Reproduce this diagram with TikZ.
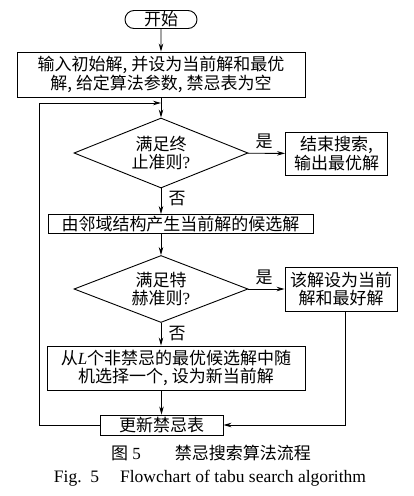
\documentclass[tikz,border=0pt]{standalone}
\usepackage{fontspec}
\setmainfont{Liberation Serif}
\newfontfamily\cjk{Noto Sans CJK SC}
\usetikzlibrary{shapes.geometric,shapes.misc,arrows.meta}
\begin{document}
\begin{tikzpicture}[x=1pt,y=-1pt,
  every node/.style={font=\cjk\fontsize{17}{18.5}\selectfont, line width=0.9pt},
  box/.style={draw, rectangle, inner sep=0pt, align=center},
  term/.style={draw, rounded rectangle, inner sep=0pt, minimum width=72pt, minimum height=18pt},
  dec/.style={draw, diamond, aspect=2.5, inner sep=0pt, minimum width=174pt, minimum height=70pt, align=center},
  lab/.style={inner sep=0pt},
  arr/.style={line width=0.9pt, -{Stealth[length=8pt,width=4.5pt]}},
  ln/.style={line width=0.9pt}]
\useasboundingbox (0,0) rectangle (413,496);
\node[term] (start) at (161,19.5) {开始};
\node[box, minimum width=288pt, minimum height=45pt] (init) at (161,74.5) {输入初始解, 并设为当前解和最优\\解, 给定算法参数, 禁忌表为空};
\node[dec] (d1) at (161,153) {满足终\\止准则{\rmfamily ?}};
\node[box, minimum width=102pt, minimum height=43pt] (fin) at (336.5,153.5) {结束搜索,\\输出最优解};
\node[box, minimum width=265pt, minimum height=19pt] (gen) at (180.5,224) {由邻域结构产生当前解的候选解};
\node[dec, minimum height=67pt] (d2) at (161,289) {满足特\\赫准则{\rmfamily ?}};
\node[box, minimum width=112pt, minimum height=44pt] (best) at (341,289) {该解设为当前\\解和最好解};
\node[box, minimum width=258pt, minimum height=44pt] (rand) at (176,368) {从{\rmfamily\itshape L}个非禁忌的最优候选解中随\\机选择一个, 设为新当前解};
\node[box, minimum width=123pt, minimum height=20pt] (upd) at (161.5,425) {更新禁忌表};
\coordinate (loopin) at (161,103);
\coordinate (loopbl) at (39,425);
\coordinate (bestout) at (345,311);
\node[lab] (y1) at (264,141) {是};
\node[lab] (n1) at (177,199) {否};
\node[lab] (y2) at (264,277) {是};
\node[lab] (n2) at (177,334) {否};
\draw[arr] (start) -- (init);
\draw[arr] (init) -- (d1);
\draw[arr] (d1) -- (fin);
\draw[arr] (d1.south) -- (d1.south |- gen.north);
\draw[arr] (gen.south -| d2.north) -- (d2);
\draw[arr] (d2) -- (best);
\draw[arr] (d2) -- (rand.north -| d2.south);
\draw[arr] (rand.south -| upd.north) -- (upd);
\draw[arr] (bestout) |- (upd.east);
\draw[ln] (upd.west) -- (loopbl);
\draw[arr] (loopbl) |- (loopin);
\node[lab] (cap1) at (211,453) {图\hspace{0.25em}{\rmfamily 5}\hspace{2em}禁忌搜索算法流程};
\node[lab, font=\rmfamily\fontsize{17.5}{19}\selectfont] (cap2) at (210,478) {Fig.~~5\hspace{1.2em}Flowchart of tabu search algorithm};
\end{tikzpicture}
\end{document}
